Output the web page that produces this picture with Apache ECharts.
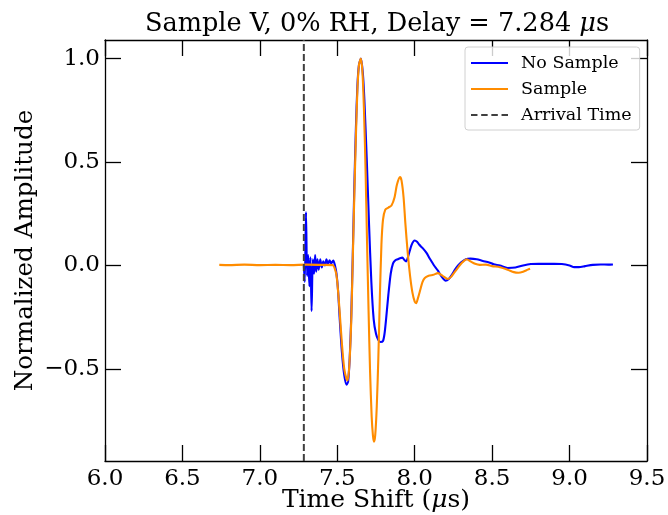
<!DOCTYPE html>
<html>
<head>
<meta charset="utf-8">
<script src="https://cdn.jsdelivr.net/npm/echarts@6/dist/echarts.min.js"></script>
<style>html,body{margin:0;padding:0;background:#fff}#c{width:668px;height:515px}</style>
</head>
<body>
<div id="c"></div>
<script>
// ---- data ----
const arrivalTime = 7.284;
const xTicks = [6.0, 6.5, 7.0, 7.5, 8.0, 8.5, 9.0, 9.5];
const yTicks = [-0.5, 0.0, 0.5, 1.0];

const noSampleT = [7.284,7.290,7.298,7.305,7.312,7.320,7.327,7.334,7.342,7.350,7.357,7.364,7.372,7.380,7.390,7.400,7.410,7.420,7.430,7.440,7.450,7.460,7.474,7.485,7.495,7.505,7.515,7.530,7.545,7.560,7.570,7.580,7.590,7.600,7.610,7.620,7.630,7.640,7.653,7.665,7.675,7.690,7.705,7.720,7.735,7.750,7.765,7.780,7.795,7.805,7.815,7.830,7.845,7.860,7.875,7.890,7.905,7.920,7.935,7.945,7.960,7.980,8.000,8.015,8.030,8.050,8.075,8.100,8.125,8.150,8.175,8.200,8.220,8.240,8.260,8.280,8.300,8.330,8.360,8.400,8.440,8.480,8.510,8.550,8.600,8.650,8.700,8.750,8.800,8.850,8.900,8.950,9.000,9.030,9.060,9.100,9.150,9.200,9.250,9.280];
const noSampleA = [0.000,-0.080,0.258,-0.050,0.050,-0.100,0.040,-0.220,0.030,-0.040,0.050,-0.030,0.030,-0.020,0.030,-0.010,0.020,0.000,0.030,0.005,0.025,0.010,0.024,0.000,-0.040,-0.120,-0.250,-0.420,-0.530,-0.576,-0.560,-0.450,-0.250,0.050,0.380,0.660,0.870,0.970,1.000,0.930,0.800,0.520,0.200,-0.080,-0.260,-0.330,-0.360,-0.370,-0.365,-0.330,-0.260,-0.140,-0.040,0.010,0.025,0.030,0.035,0.038,0.025,0.020,0.050,0.100,0.121,0.115,0.100,0.085,0.062,0.030,0.000,-0.025,-0.055,-0.073,-0.065,-0.045,-0.020,0.000,0.015,0.030,0.033,0.030,0.022,0.015,0.006,0.000,-0.012,-0.010,0.000,0.007,0.008,0.008,0.008,0.007,0.000,-0.008,-0.008,-0.003,0.003,0.005,0.004,0.005];

const sampleT = [6.738,6.800,6.900,7.000,7.100,7.200,7.300,7.400,7.470,7.490,7.500,7.515,7.530,7.545,7.560,7.567,7.578,7.590,7.600,7.610,7.620,7.630,7.640,7.652,7.662,7.672,7.682,7.692,7.702,7.712,7.722,7.730,7.737,7.745,7.755,7.765,7.775,7.785,7.795,7.810,7.830,7.850,7.870,7.885,7.905,7.915,7.928,7.940,7.955,7.970,7.985,8.000,8.010,8.020,8.035,8.050,8.065,8.090,8.120,8.150,8.180,8.215,8.235,8.255,8.275,8.295,8.315,8.335,8.360,8.390,8.420,8.460,8.500,8.550,8.600,8.640,8.670,8.700,8.730,8.745];
const sampleA = [0.003,0.002,0.004,0.002,0.003,0.002,0.004,0.003,0.002,-0.030,-0.080,-0.220,-0.380,-0.500,-0.550,-0.556,-0.480,-0.270,0.030,0.340,0.620,0.850,0.970,1.000,0.940,0.760,0.480,0.120,-0.220,-0.520,-0.730,-0.820,-0.852,-0.820,-0.680,-0.450,-0.150,0.100,0.220,0.270,0.280,0.290,0.330,0.390,0.427,0.410,0.330,0.200,0.060,-0.050,-0.130,-0.175,-0.182,-0.160,-0.120,-0.080,-0.060,-0.050,-0.045,-0.037,-0.050,-0.065,-0.055,-0.035,-0.015,0.005,0.020,0.030,0.020,0.008,0.003,0.004,-0.003,-0.008,-0.020,-0.032,-0.035,-0.030,-0.020,-0.016];

const yMin = -0.945, yMax = 1.09;

// ---- chart ----
const zip = (a, b) => a.map((v, i) => [v, b[i]]);
const serif = 'DejaVu Serif';
const fmt = v => (v < 0 ? '\u2212' + Math.abs(v).toFixed(1) : v.toFixed(1));
const chart = echarts.init(document.getElementById('c'), null, {renderer: 'canvas'});

const solidIcon = 'path://M0,0H40V2H0Z';
const dashIcon = 'path://M0,0H7V2H0ZM11,0H18V2H11ZM22,0H29V2H22ZM33,0H40V2H33Z';
const axisCol = {color: '#000', width: 1.3};

chart.setOption({
  animation: false,
  backgroundColor: '#fff',
  title: {
    text: 'Sample V, 0% RH, Delay = 7.284 {i|μ}s',
    left: 372, top: 6, textAlign: 'center',
    textStyle: {
      fontFamily: serif, fontSize: 25.6, fontWeight: 'normal', color: '#000',
      rich: {i: {fontFamily: serif, fontSize: 25.6, fontStyle: 'italic', color: '#000'}}
    }
  },
  grid: {left: 105, right: 21, top: 40, bottom: 54, containLabel: false, outerBoundsMode: 'none'},
  legend: {
    orient: 'vertical', left: 465, top: 47,
    itemWidth: 37, itemHeight: 2, itemGap: 8,
    padding: [7, 8, 6, 6],
    borderColor: '#d0d0d0', borderWidth: 1, borderRadius: 3,
    backgroundColor: 'rgba(255,255,255,0.8)',
    textStyle: {fontFamily: serif, fontSize: 17.5, color: '#000', padding: [0, 0, 0, 8]},
    data: [
      {name: 'No Sample', icon: solidIcon},
      {name: 'Sample', icon: solidIcon},
      {name: 'Arrival Time', icon: dashIcon}
    ]
  },
  xAxis: [{
    type: 'value', min: 6, max: 9.5, interval: 0.5,
    name: 'Time Shift ({i|μ}s)', nameLocation: 'middle', nameGap: 27, nameMoveOverlap: false,
    nameTextStyle: {fontFamily: serif, fontSize: 25, color: '#000', verticalAlign: 'top',
      rich: {i: {fontFamily: serif, fontSize: 25, fontStyle: 'italic', color: '#000'}}},
    axisLine: {show: true, onZero: false, lineStyle: axisCol},
    axisTick: {show: true, inside: true, length: 16, lineStyle: axisCol},
    axisLabel: {fontFamily: serif, fontSize: 23, color: '#000', margin: 7, formatter: fmt},
    splitLine: {show: false}
  }, {
    type: 'value', min: 6, max: 9.5, interval: 0.5, position: 'top',
    axisLine: {show: true, onZero: false, lineStyle: axisCol},
    axisTick: {show: true, inside: true, length: 16, lineStyle: axisCol},
    axisLabel: {show: false}, splitLine: {show: false}
  }],
  yAxis: [{
    type: 'value', min: yMin, max: yMax,
    name: 'Normalized Amplitude', nameLocation: 'middle', nameGap: 67, nameMoveOverlap: false,
    nameTextStyle: {fontFamily: serif, fontSize: 24.6, color: '#000'},
    axisLine: {show: true, onZero: false, lineStyle: axisCol},
    axisTick: {show: true, inside: true, length: 16, customValues: yTicks, lineStyle: axisCol},
    axisLabel: {fontFamily: serif, fontSize: 23, color: '#000', margin: 5, customValues: yTicks, formatter: fmt},
    splitLine: {show: false}
  }, {
    type: 'value', min: yMin, max: yMax, position: 'right',
    axisLine: {show: true, onZero: false, lineStyle: axisCol},
    axisTick: {show: true, inside: true, length: 16, customValues: yTicks, lineStyle: axisCol},
    axisLabel: {show: false}, splitLine: {show: false}
  }],
  series: [
    {name: 'No Sample', type: 'line', data: zip(noSampleT, noSampleA), showSymbol: false, symbol: 'none',
     smooth: 0.25, color: '#0000ff', lineStyle: {color: '#0000ff', width: 2.1}},
    {name: 'Sample', type: 'line', data: zip(sampleT, sampleA), showSymbol: false, symbol: 'none',
     smooth: 0.25, color: '#ff8c00', lineStyle: {color: '#ff8c00', width: 2.1}},
    {name: 'Arrival Time', type: 'line', data: [[arrivalTime, yMin], [arrivalTime, yMax]], showSymbol: false, symbol: 'none',
     color: '#404040', lineStyle: {color: '#404040', width: 2, type: [7, 3]}}
  ]
});
</script>
</body>
</html>
